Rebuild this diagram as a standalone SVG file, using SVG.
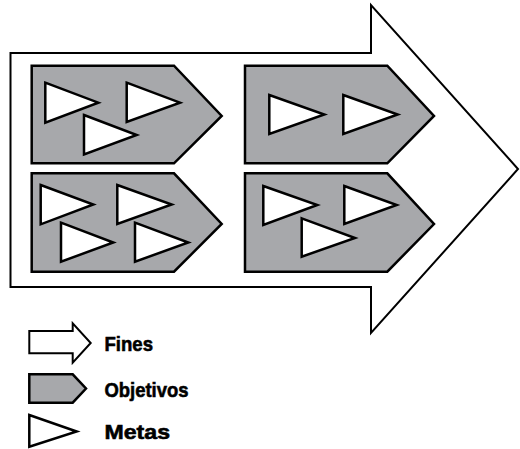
<svg xmlns="http://www.w3.org/2000/svg" width="520" height="449" viewBox="0 0 520 449">
<defs>
<style>
.fin{fill:#ffffff;stroke:#000;stroke-width:2;stroke-linejoin:miter}
.obj{fill:#a7a8ab;stroke:#000;stroke-width:2.5;stroke-linejoin:miter}
.meta{fill:#ffffff;stroke:#000;stroke-width:2.5;stroke-linejoin:miter}
.lbl{font-family:"Liberation Sans",Arial,sans-serif;font-weight:bold;font-size:21px;fill:#000;stroke:#000;stroke-width:0.6}
</style>
</defs>
<g id="fines">
<polygon class="fin" points="10.5,53 371,53 371,5 518,169 371,333 371,287 10.5,287"/>
</g>
<g id="objetivo-1">
<polygon class="obj" points="31.7,65.7 174,65.7 221.7,116 174,163.3 31.7,163.3"/>
<polygon class="meta" points="45.3,82.7 98.3,102.7 45.3,122.7"/>
<polygon class="meta" points="126.7,82.7 180,102.7 126.7,122"/>
<polygon class="meta" points="84,115 136.7,135 84,154.5"/>
</g>
<g id="objetivo-2">
<polygon class="obj" points="31.7,173.3 174,173.3 221.7,224 174,271.7 31.7,271.7"/>
<polygon class="meta" points="40.7,185 93.3,204.5 40.7,224.3"/>
<polygon class="meta" points="117.3,185 171.7,204.5 117.3,224"/>
<polygon class="meta" points="61,222.7 113.3,242.5 61,261.7"/>
<polygon class="meta" points="135,222.7 188.3,242.5 135,261.7"/>
</g>
<g id="objetivo-3">
<polygon class="obj" points="245,65.7 387.3,65.7 434,116 387.3,163.3 245,163.3"/>
<polygon class="meta" points="269.3,95 324.3,114.5 269.3,134"/>
<polygon class="meta" points="343.3,95 397.7,114.5 343.3,134"/>
</g>
<g id="objetivo-4">
<polygon class="obj" points="245,173.3 387.3,173.3 434,224 387.3,271.7 245,271.7"/>
<polygon class="meta" points="263.3,186 317.3,205 263.3,225"/>
<polygon class="meta" points="344.3,186 396.7,205 344.3,224"/>
<polygon class="meta" points="301.7,218.3 355,238 301.7,256.7"/>
</g>
<g id="connectors"></g>
<g id="leyenda-fines">
<polygon class="fin" points="29.3,331 72.7,331 72.7,323.3 90.7,343 72.7,362.7 72.7,353.3 29.3,353.3"/>
<text class="lbl" x="104.5" y="351.3" textLength="48.5" lengthAdjust="spacingAndGlyphs">Fines</text>
</g>
<g id="leyenda-objetivos">
<polygon class="obj" points="29.3,374.3 72.7,374.3 86,388.5 72.7,402.7 29.3,402.7"/>
<text class="lbl" x="104.5" y="396.5" textLength="84" lengthAdjust="spacingAndGlyphs">Objetivos</text>
</g>
<g id="leyenda-metas">
<polygon class="meta" points="29.3,415 76.7,431.5 29.3,446.7"/>
<text class="lbl" x="104.5" y="438.5" textLength="65.5" lengthAdjust="spacingAndGlyphs">Metas</text>
</g>
</svg>
